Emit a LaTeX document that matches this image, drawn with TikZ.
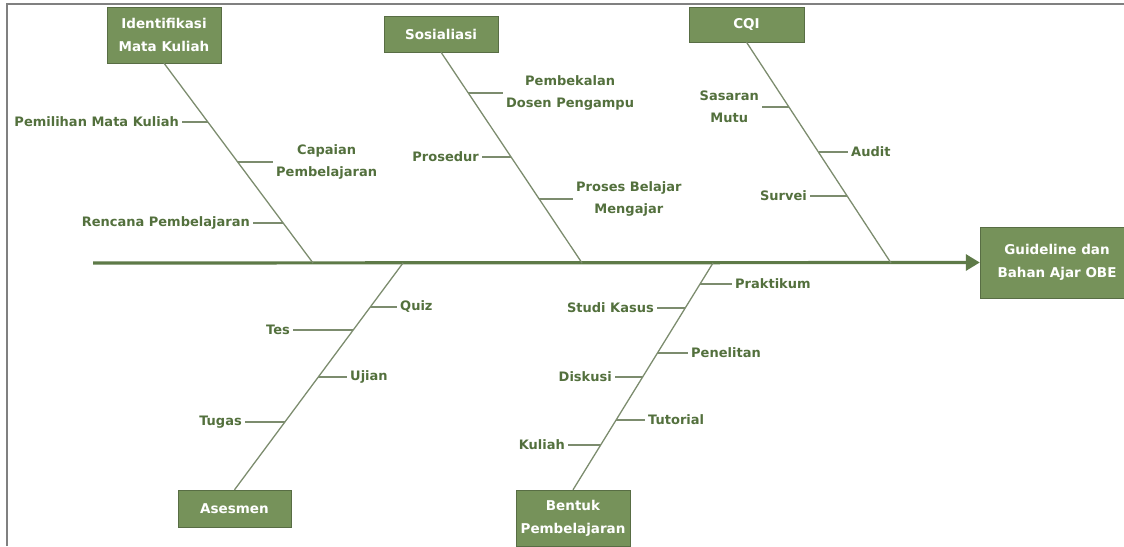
\documentclass[tikz,border=0pt]{standalone}
\usepackage{fontspec}
\setmainfont{DejaVu Sans}
\usetikzlibrary{arrows.meta}
\definecolor{boxgreen}{HTML}{76925A}
\definecolor{txtgreen}{HTML}{53703D}
\definecolor{bonegray}{HTML}{7C8C6E}
\definecolor{spinegreen}{HTML}{5E7A48}
\begin{document}
\begin{tikzpicture}[x=1pt,y=-1pt,
  cat/.style={fill=boxgreen,draw=boxgreen!75!black,text=white,align=center,
    font=\bfseries\fontsize{13.5}{23}\selectfont,inner sep=2pt},
  lbl/.style={text=txtgreen,align=center,inner sep=3pt,
    font=\bfseries\fontsize{13}{22}\selectfont},
  bone/.style={draw=bonegray,line width=1.3pt},
  spine/.style={draw=spinegreen,line width=3.2pt}]
\useasboundingbox (0,0) rectangle (1124,546);
\draw[gray,line width=1.5pt] (7,546) -- (7,4) -- (1124,4);
% category boxes
\node[cat,minimum width=114pt,minimum height=56pt] (ident) at (164,35) {Identifikasi\\Mata Kuliah};
\node[cat,minimum width=114pt,minimum height=36pt] (sos) at (441,34) {Sosialiasi};
\node[cat,minimum width=115pt,minimum height=35pt] (cqi) at (746.5,24.5) {CQI};
\node[cat,minimum width=113pt,minimum height=37pt] (ases) at (234.5,508.5) {Asesmen};
\node[cat,minimum width=114pt,minimum height=56pt] (bentuk) at (573,518) {Bentuk\\Pembelajaran};
\node[cat,minimum width=154pt,minimum height=71pt] (obe) at (1057,262.5) {Guideline dan\\Bahan Ajar OBE};
% spine
\draw[spine,-{Triangle[length=14pt,width=16pt]}] (93,263) -- (obe.west);
\coordinate (jI) at (313,263);
\coordinate (jS) at (582,263);
\coordinate (jC) at (891,263);
\coordinate (jA) at (403,263);
\coordinate (jB) at (713,263);
\draw[bone] (ident.south) -- (jI);
\draw[bone] (sos.south) -- (jS);
\draw[bone] (cqi.south) -- (jC);
\draw[bone] (jA) -- (ases.north);
\draw[bone] (jB) -- (bentuk.north);
% Identifikasi Mata Kuliah
\coordinate (i1) at (208,122);
\coordinate (i2) at (238,162);
\coordinate (i3) at (283,223);
\node[lbl,anchor=east] (pemilihan) at (182,122) {Pemilihan Mata Kuliah};
\node[lbl,anchor=west] (capaian) at (273,162) {Capaian\\Pembelajaran};
\node[lbl,anchor=east] (rencana) at (253,223) {Rencana Pembelajaran};
\draw[bone] (i1) -- (pemilihan.east);
\draw[bone] (i2) -- (capaian.west);
\draw[bone] (i3) -- (rencana.east);
% Sosialiasi
\coordinate (s1) at (468,93);
\coordinate (s2) at (511,157);
\coordinate (s3) at (539,199);
\node[lbl,anchor=west] (pembekalan) at (503,93) {Pembekalan\\Dosen Pengampu};
\node[lbl,anchor=east] (prosedur) at (482,157) {Prosedur};
\node[lbl,anchor=west] (proses) at (573,199) {Proses Belajar\\Mengajar};
\draw[bone] (s1) -- (pembekalan.west);
\draw[bone] (s2) -- (prosedur.east);
\draw[bone] (s3) -- (proses.west);
% CQI
\coordinate (c1) at (789,107);
\coordinate (c2) at (819,152);
\coordinate (c3) at (847,196);
\node[lbl,anchor=east] (sasaran) at (762,107) {Sasaran\\Mutu};
\node[lbl,anchor=west] (audit) at (848,152) {Audit};
\node[lbl,anchor=east] (survei) at (810,196) {Survei};
\draw[bone] (c1) -- (sasaran.east);
\draw[bone] (c2) -- (audit.west);
\draw[bone] (c3) -- (survei.east);
% Asesmen
\coordinate (a1) at (370,307);
\coordinate (a2) at (353,330);
\coordinate (a3) at (318,377);
\coordinate (a4) at (285,422);
\node[lbl,anchor=west] (quiz) at (397,307) {Quiz};
\node[lbl,anchor=east] (tes) at (293,330) {Tes};
\node[lbl,anchor=west] (ujian) at (347,377) {Ujian};
\node[lbl,anchor=east] (tugas) at (245,422) {Tugas};
\draw[bone] (a1) -- (quiz.west);
\draw[bone] (a2) -- (tes.east);
\draw[bone] (a3) -- (ujian.west);
\draw[bone] (a4) -- (tugas.east);
% Bentuk Pembelajaran
\coordinate (b1) at (700,284);
\coordinate (b2) at (685,308);
\coordinate (b3) at (657,353);
\coordinate (b4) at (643,377);
\coordinate (b5) at (616,420);
\coordinate (b6) at (601,445);
\node[lbl,anchor=west] (praktikum) at (732,284) {Praktikum};
\node[lbl,anchor=east] (studi) at (657,308) {Studi Kasus};
\node[lbl,anchor=west] (penelitan) at (688,353) {Penelitan};
\node[lbl,anchor=east] (diskusi) at (615,377) {Diskusi};
\node[lbl,anchor=west] (tutorial) at (645,420) {Tutorial};
\node[lbl,anchor=east] (kuliah) at (568,445) {Kuliah};
\draw[bone] (b1) -- (praktikum.west);
\draw[bone] (b2) -- (studi.east);
\draw[bone] (b3) -- (penelitan.west);
\draw[bone] (b4) -- (diskusi.east);
\draw[bone] (b5) -- (tutorial.west);
\draw[bone] (b6) -- (kuliah.east);
\end{tikzpicture}
\end{document}
